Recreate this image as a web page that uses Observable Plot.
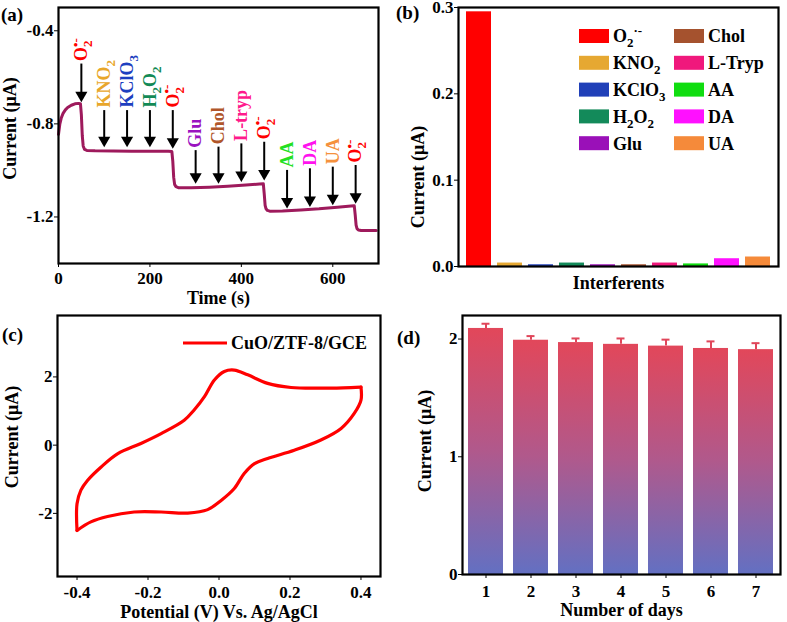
<!DOCTYPE html>
<html><head><meta charset="utf-8">
<script src="https://cdn.jsdelivr.net/npm/d3@7"></script>
<script src="https://cdn.jsdelivr.net/npm/@observablehq/plot@0.6"></script>
<style>
body{margin:0;background:#fff;}
#fig{position:relative;width:787px;height:622px;overflow:hidden;}
#fig > svg{position:absolute;}
</style></head><body><div id="fig"></div>
<script>
// ---------- (a) amperometric i-t response ----------
const timeA = [0,3,6,10,15,20,28,36,44,48,50,52,54,57,62,80,120,160,200,240,248,250,252,254,257,262,290,330,370,410,440,448,450,452,454,457,462,490,530,570,610,640,647,649,651,653,656,662,680,695];
const currentA = [-0.845,-0.80,-0.775,-0.755,-0.74,-0.73,-0.72,-0.714,-0.712,-0.713,-0.76,-0.85,-0.895,-0.91,-0.914,-0.916,-0.917,-0.918,-0.918,-0.918,-0.919,-0.96,-1.03,-1.06,-1.07,-1.074,-1.075,-1.072,-1.068,-1.063,-1.058,-1.057,-1.10,-1.15,-1.165,-1.172,-1.175,-1.174,-1.17,-1.165,-1.158,-1.153,-1.152,-1.19,-1.235,-1.25,-1.256,-1.258,-1.258,-1.258];
const arrowTimes = [50,100,150,200,250,300,350,400,450,500,550,600,650];
const arrowTop = [-0.543,-0.743,-0.743,-0.743,-0.743,-0.915,-0.9,-0.886,-0.879,-1.0,-0.993,-0.986,-0.979];
const arrowTip = [-0.707,-0.9,-0.9,-0.9,-0.907,-1.057,-1.057,-1.05,-1.043,-1.164,-1.157,-1.15,-1.143];
const arrowLabels = ["O_{2}^{•-}","KNO_{2}","KClO_{3}","H_{2}O_{2}","O_{2}^{•-}","Glu","Chol","L-tryp","O_{2}^{•-}","AA","DA","UA","O_{2}^{•-}"];
const arrowColors = ["#ff0000","#e8a62a","#1d3fc0","#128a55","#ff0000","#9b12c0","#b0562a","#ff1a8c","#ff0000","#22e022","#ff12ee","#f5913d","#ff0000"];
const xTicksA = [0,200,400,600];
const yTicksA = [-0.4,-0.8,-1.2];

// ---------- (b) interference ----------
const interferents = ["O2","KNO2","KClO3","H2O2","Glu","Chol","L-Tryp","AA","DA","UA"];
const interferentLabels = ["O_{2}^{·-}","KNO_{2}","KClO_{3}","H_{2}O_{2}","Glu","Chol","L-Tryp","AA","DA","UA"];
const interferentValues = [0.295,0.004,0.002,0.004,0.002,0.002,0.004,0.003,0.009,0.011];
const interferentColors = ["#ff0000","#e6a832","#2040b8","#138a5a","#9a10b8","#a5522e","#f0187c","#10dd10","#ff10ff","#f58a3a"];
const yTicksB = [0,0.1,0.2,0.3];

// ---------- (c) cyclic voltammogram ----------
const potentialC = [-0.4,-0.4,-0.389,-0.37,-0.332,-0.285,-0.22,-0.163,-0.098,-0.07,-0.041,-0.013,0.015,0.043,0.081,0.137,0.203,0.278,0.35,0.4,0.4,0.381,0.344,0.287,0.212,0.137,0.1,0.071,0.043,0.006,-0.032,-0.088,-0.163,-0.239,-0.314,-0.361,-0.4];
const currentC = [-2.5,-1.72,-1.32,-1.03,-0.64,-0.25,0.05,0.34,0.73,1.03,1.42,1.91,2.16,2.2,2.06,1.81,1.69,1.67,1.68,1.7,1.32,0.93,0.49,0.15,-0.15,-0.39,-0.54,-0.83,-1.27,-1.62,-1.89,-1.99,-1.96,-1.96,-2.09,-2.25,-2.5];
const xTicksC = [-0.4,-0.2,0,0.2,0.4];
const yTicksC = [-2,0,2];
const legendC = "CuO/ZTF-8/GCE";

// ---------- (d) stability ----------
const days = [1,2,3,4,5,6,7];
const dayCurrent = [2.09,1.99,1.97,1.955,1.94,1.92,1.91];
const dayError = [0.04,0.035,0.035,0.05,0.055,0.06,0.055];
const yTicksD = [0,1,2];

const FONT = "Liberation Serif, Times New Roman, serif";
const baseStyle = {fontFamily: FONT, fontWeight: "bold", fontSize: "17px", color: "#000", background: "transparent", overflow: "visible"};
const fig = document.getElementById("fig");

function richText(svg, fs, stack) {
  d3.select(svg).selectAll("text").each(function() {
    const s = this.textContent;
    if (!/[_^]\{/.test(s)) return;
    const el = d3.select(this); el.text(null);
    const re = /([_^])\{([^}]*)\}|([^_^]+)/g;
    let m, shift = 0, prev = null, prevLen = 0;
    while ((m = re.exec(s))) {
      const t = el.append("tspan");
      if (m[3]) {
        t.text(m[3]); if (shift) t.attr("dy", -shift); shift = 0; prev = "n";
      } else {
        const sub = m[1] === "_";
        const ns = sub ? 0.28 * fs : -0.42 * fs;
        t.attr("font-size", 0.72 * fs).attr("dy", ns - shift).text(m[2]);
        if (stack && !sub && prev === "sub") t.attr("dx", -0.72 * fs * 0.5 * prevLen);
        shift = ns; prev = sub ? "sub" : "sup"; prevLen = m[2].length;
      }
    }
  });
}
function place(svg, left, top) { svg.style.left = left + "px"; svg.style.top = top + "px"; fig.appendChild(svg); }
const yLabel = (dx, dy = 0) => Plot.text(["Current (μA)"], {frameAnchor: "left", textAnchor: "middle", lineAnchor: "middle", rotate: -90, dx, dy, fontSize: 18});
const xLabel = (t, dy) => Plot.text([t], {frameAnchor: "bottom", textAnchor: "middle", lineAnchor: "middle", dy, fontSize: 18});

// ---- panel (a)
const dataA = timeA.map((t, i) => ({t, c: currentA[i]}));
const arrowsA = arrowTimes.map((t, i) => ({t, top: arrowTop[i], tip: arrowTip[i], label: arrowLabels[i], color: arrowColors[i]}));
const plotA = Plot.plot({
  width: 390, height: 300, marginTop: 7, marginRight: 12, marginBottom: 37, marginLeft: 58,
  style: baseStyle,
  color: {type: "identity"},
  x: {domain: [0, 700], ticks: xTicksA, tickSize: 4, tickPadding: 4, label: null},
  y: {domain: [-1.4, -0.3], ticks: yTicksA, tickSize: 4, tickPadding: 1, tickFormat: d => d.toFixed(1), label: null},
  marks: [
    Plot.line(dataA, {x: "t", y: "c", stroke: "#9e1a5c", strokeWidth: 3}),
    Plot.ruleX(arrowsA, {x: "t", y1: "top", y2: "tip", stroke: "#000", strokeWidth: 2, insetBottom: 6}),
    Plot.dot(arrowsA, {x: "t", y: "tip", symbol: "triangle", r: 4.5, rotate: 180, fill: "#000", stroke: null, dy: -7}),
    Plot.text(arrowsA, {x: "t", y: "top", text: "label", fill: "color", rotate: -90, textAnchor: "start", dy: -3, fontSize: 18}),
    yLabel(-48, -7),
    xLabel("Time (s)", 35),
    Plot.frame({stroke: "#000", strokeWidth: 2.2})
  ]
});
richText(plotA, 18, true);
place(plotA, 0, 0);

// ---- panel (b)
const dataB = interferents.map((k, i) => ({k, v: interferentValues[i], color: interferentColors[i]}));
const plotB = Plot.plot({
  width: 397, height: 300, marginTop: 7, marginRight: 9, marginBottom: 34, marginLeft: 68,
  style: baseStyle,
  color: {type: "identity"},
  x: {domain: interferents, paddingInner: 0.2, paddingOuter: 0.2, axis: null},
  y: {domain: [0, 0.3], ticks: yTicksB, tickSize: 4, tickPadding: 1, tickFormat: d => d.toFixed(1), label: null},
  marks: [
    Plot.barY(dataB, {x: "k", y: "v", fill: "color"}),
    yLabel(-40, 40),
    xLabel("Interferents", 17),
    Plot.frame({stroke: "#000", strokeWidth: 2.2})
  ]
});
{
  const g = d3.select(plotB).append("g").attr("font-size", 18).attr("font-family", FONT).attr("font-weight", "bold").attr("text-anchor", "start");
  interferents.forEach((k, i) => {
    const col = Math.floor(i / 5), row = i % 5;
    const sx = col ? 284 : 189, cy = 36 + row * 26.8;
    g.append("rect").attr("x", sx).attr("y", cy - 7).attr("width", 30).attr("height", 14).attr("fill", interferentColors[i]);
    g.append("text").attr("x", sx + 34).attr("y", cy).attr("dy", "0.35em").attr("fill", "#000").text(interferentLabels[i]);
  });
}
richText(plotB, 18, false);
place(plotB, 390, 0);

// ---- panel (c)
const dataC = potentialC.map((p, i) => ({p, c: currentC[i]}));
const plotC = Plot.plot({
  width: 390, height: 322, marginTop: 15, marginRight: 10, marginBottom: 46, marginLeft: 57,
  style: baseStyle,
  x: {domain: [-0.455, 0.455], ticks: xTicksC, tickSize: 4, tickPadding: 5, tickFormat: d => d.toFixed(1), label: null},
  y: {domain: [-3.85, 3.8], ticks: yTicksC, tickSize: 4, tickPadding: 1, tickFormat: d => String(d), label: null},
  marks: [
    Plot.line(dataC.slice(0, 20), {x: "p", y: "c", stroke: "#ff0000", strokeWidth: 3.2, curve: "catmull-rom"}),
    Plot.line(dataC.slice(19), {x: "p", y: "c", stroke: "#ff0000", strokeWidth: 3.2, curve: "catmull-rom"}),
    yLabel(-45, -9),
    xLabel("Potential (V) Vs. Ag/AgCl", 36),
    Plot.frame({stroke: "#000", strokeWidth: 2.2})
  ]
});
{
  const g = d3.select(plotC).append("g").attr("font-size", 18).attr("font-family", FONT).attr("font-weight", "bold").attr("text-anchor", "start");
  g.append("line").attr("x1", 183).attr("x2", 227).attr("y1", 43).attr("y2", 43).attr("stroke", "#ff0000").attr("stroke-width", 3);
  g.append("text").attr("x", 231).attr("y", 43).attr("dy", "0.35em").text(legendC);
}
place(plotC, 0, 300);

// ---- panel (d)
const dataD = days.map((d, i) => ({d, v: dayCurrent[i], e: dayError[i]}));
const plotD = Plot.plot({
  width: 397, height: 322, marginTop: 15, marginRight: 7, marginBottom: 48, marginLeft: 72,
  style: baseStyle,
  x: {domain: days, paddingInner: 0.22, paddingOuter: 0.1, tickSize: 4, tickPadding: 6, label: null},
  y: {domain: [0, 2.2], ticks: yTicksD, tickSize: 4, tickPadding: 1, tickFormat: d => String(d), label: null},
  marks: [
    Plot.ruleX(dataD, {x: "d", y1: "v", y2: d => d.v + d.e, stroke: "#e0465a", strokeWidth: 2}),
    Plot.tickY(dataD, {x: "d", y: d => d.v + d.e, stroke: "#e0465a", strokeWidth: 2, insetLeft: 13.5, insetRight: 13.5}),
    Plot.barY(dataD, {x: "d", y: "v", fill: "#e0465a"}),
    yLabel(-37, -4),
    xLabel("Number of days", 36),
    Plot.frame({stroke: "#000", strokeWidth: 2.2})
  ]
});
{
  const svg = d3.select(plotD);
  const grad = svg.insert("defs", ":first-child").append("linearGradient").attr("id", "barGradD")
    .attr("x1", 0).attr("y1", 0).attr("x2", 0).attr("y2", 1);
  grad.append("stop").attr("offset", "0%").attr("stop-color", "#e2475a");
  grad.append("stop").attr("offset", "50%").attr("stop-color", "#b0598c");
  grad.append("stop").attr("offset", "100%").attr("stop-color", "#6370c2");
  svg.selectAll("g[aria-label='bar']").attr("fill", "url(#barGradD)");
}
place(plotD, 390, 300);

// ---- panel letters
{
  const ov = d3.select(fig).append("svg").attr("width", 787).attr("height", 622).style("left", "0px").style("top", "0px")
    .attr("font-family", FONT).attr("font-weight", "bold").attr("font-size", 19);
  [["(a)", 1, 21], ["(b)", 396, 19], ["(c)", 2, 341], ["(d)", 397, 344]].forEach(([t, x, y]) =>
    ov.append("text").attr("x", x).attr("y", y).text(t));
}
</script>
</body></html>
